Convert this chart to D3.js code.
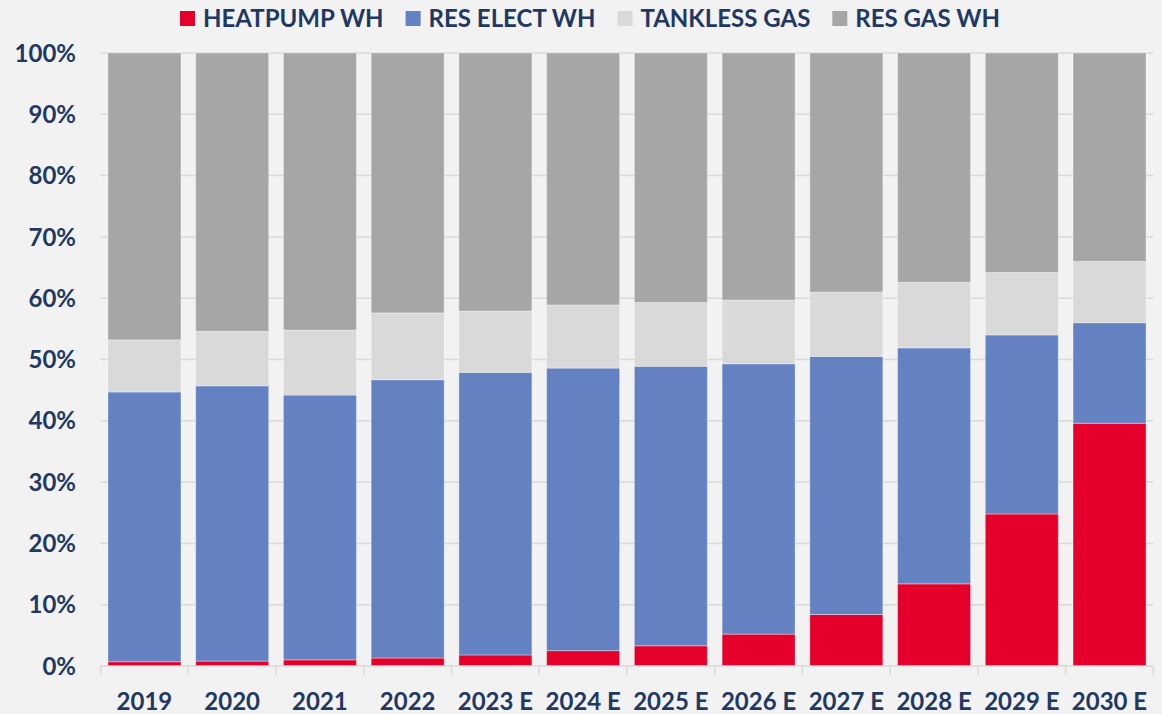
<!DOCTYPE html>
<html>
<head>
<meta charset="utf-8">
<script src="https://cdn.jsdelivr.net/npm/d3@7"></script>
<style>
  html, body { margin: 0; padding: 0; background: #f2f2f2; }
  svg { display: block; }
  text { font-family: Lato, "Open Sans", sans-serif; font-weight: 700; fill: #1f3864; }
</style>
</head>
<body>
<div class="js-chart"></div>
<script>
// share of water heater shipments, % per year
var years = ['2019', '2020', '2021', '2022', '2023 E', '2024 E', '2025 E', '2026 E', '2027 E', '2028 E', '2029 E', '2030 E'];
var heatpumpWh = [0.7, 0.8, 1.0, 1.3, 1.8, 2.5, 3.3, 5.2, 8.4, 13.4, 24.8, 39.6];
var resElectWh = [44.0, 44.9, 43.2, 45.4, 46.1, 46.1, 45.6, 44.1, 42.1, 38.5, 29.2, 16.4];
var tanklessGas = [8.5, 8.9, 10.6, 10.9, 10.0, 10.3, 10.4, 10.4, 10.5, 10.7, 10.2, 10.0];
var resGasWh = [46.8, 45.4, 45.2, 42.4, 42.1, 41.1, 40.7, 40.3, 39.0, 37.4, 35.8, 34.0];
var seriesNames = ['HEATPUMP WH', 'RES ELECT WH', 'TANKLESS GAS', 'RES GAS WH'];
var yTicks = [0, 10, 20, 30, 40, 50, 60, 70, 80, 90, 100];

var W = 1162, H = 714;
// plot edges (note: "top" is taken by window.top)
var plotLeft = 100.6, plotRight = 1153.4, plotTop = 53, plotBottom = 666;
var colors = ['#e4002b', '#6481c2', '#d9d9d9', '#a6a6a6'];
var FONT = 24;

var rows = years.map(function (y, i) {
  return { year: y, 'HEATPUMP WH': heatpumpWh[i], 'RES ELECT WH': resElectWh[i], 'TANKLESS GAS': tanklessGas[i], 'RES GAS WH': resGasWh[i] };
});

var svg = d3.select('.js-chart').append('svg').attr('width', W).attr('height', H);
svg.append('rect').attr('width', W).attr('height', H).attr('fill', '#f2f2f2');

var x = d3.scaleBand().domain(years).range([plotLeft, plotRight]).paddingInner(0.168).paddingOuter(0.084);
var y = d3.scaleLinear().domain([0, 100]).range([plotBottom, plotTop]);

// gridlines
svg.append('g')
  .selectAll('line')
  .data(yTicks.slice(1))
  .enter()
  .append('line')
  .attr('x1', plotLeft).attr('x2', plotRight)
  .attr('y1', function (d) { return y(d); }).attr('y2', function (d) { return y(d); })
  .attr('stroke', '#d9d9d9').attr('stroke-width', 1.5);

// y labels
svg.append('g')
  .selectAll('text')
  .data(yTicks)
  .enter()
  .append('text')
  .attr('x', 76)
  .attr('y', function (d) { return y(d); })
  .attr('dy', '0.36em')
  .attr('text-anchor', 'end')
  .style('font-size', FONT + 'px')
  .text(function (d) { return d + '%'; });

// stacked bars
var stack = d3.stack().keys(seriesNames)(rows);
svg.append('g')
  .selectAll('g')
  .data(stack)
  .enter()
  .append('g')
  .attr('fill', function (d, i) { return colors[i]; })
  .selectAll('rect')
  .data(function (d) { return d; })
  .enter()
  .append('rect')
  .attr('x', function (d) { return x(d.data.year); })
  .attr('width', x.bandwidth())
  .attr('y', function (d) { return y(d[1]); })
  .attr('height', function (d) { return y(d[0]) - y(d[1]); })
  .attr('stroke', 'rgba(255,255,255,0.35)')
  .attr('stroke-width', 1);

// x axis
var step = x.step();
var axis = svg.append('g');
axis.append('line')
  .attr('x1', plotLeft).attr('x2', plotRight).attr('y1', plotBottom).attr('y2', plotBottom)
  .attr('stroke', '#d9d9d9').attr('stroke-width', 1.5);
axis.selectAll('.tick')
  .data(d3.range(years.length + 1))
  .enter()
  .append('line')
  .attr('x1', function (d) { return plotLeft + d * step; })
  .attr('x2', function (d) { return plotLeft + d * step; })
  .attr('y1', plotBottom).attr('y2', plotBottom + 9)
  .attr('stroke', '#d9d9d9').attr('stroke-width', 1.5);
axis.selectAll('text')
  .data(years)
  .enter()
  .append('text')
  .attr('x', function (d) { return x(d) + x.bandwidth() / 2; })
  .attr('y', 701)
  .attr('dy', '0.36em')
  .attr('text-anchor', 'middle')
  .style('font-size', FONT + 'px')
  .text(function (d) { return d; });

// legend, centred
var legend = svg.append('g');
var items = legend.selectAll('g')
  .data(seriesNames)
  .enter()
  .append('g');
items.append('rect')
  .attr('width', 15).attr('height', 15)
  .attr('y', 11)
  .attr('fill', function (d, i) { return colors[i]; });
items.append('text')
  .attr('x', 23)
  .attr('y', 18.5)
  .attr('dy', '0.36em')
  .style('font-size', FONT + 'px')
  .text(function (d) { return d; });
var cursor = 0;
items.each(function () {
  var w = d3.select(this).select('text').node().getComputedTextLength();
  d3.select(this).attr('transform', 'translate(' + cursor + ',0)');
  cursor += 23 + w + 22;
});
var total = cursor - 22;
legend.attr('transform', 'translate(' + (590 - total / 2) + ',0)');
</script>
</body>
</html>
